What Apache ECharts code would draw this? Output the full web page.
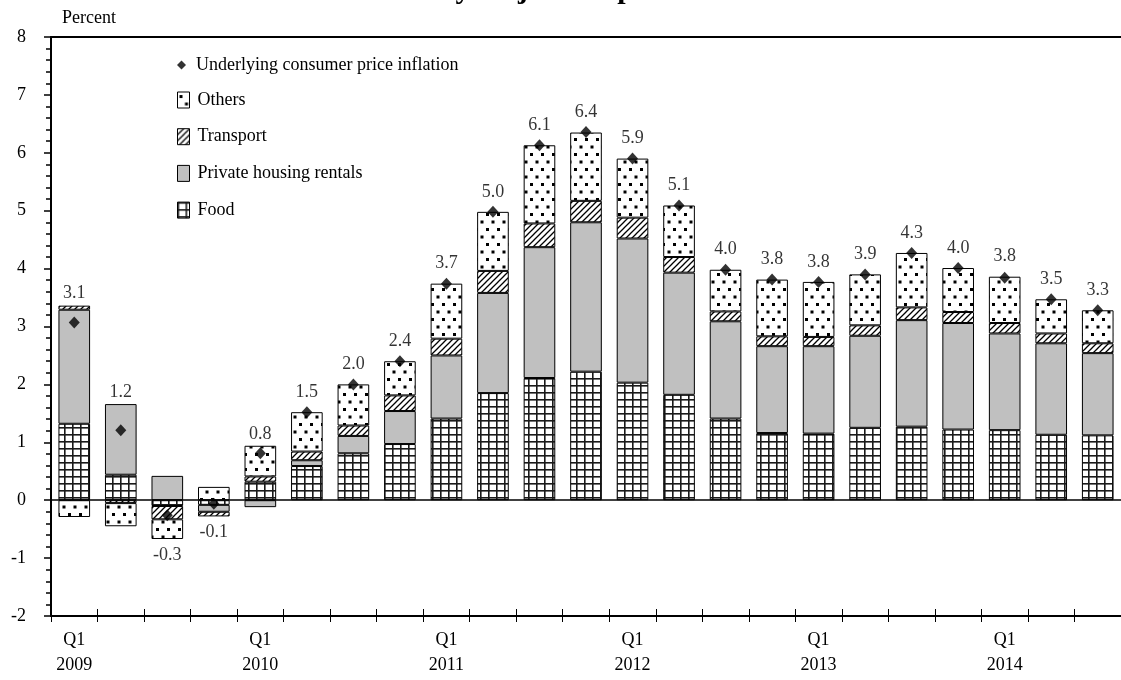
<!DOCTYPE html>
<html>
<head>
<meta charset="utf-8">
<style>
  html, body { margin: 0; padding: 0; background: #fff; }
  #chart { width: 1121px; height: 680px; }
</style>
<script src="https://cdn.jsdelivr.net/npm/echarts@6/dist/echarts.min.js"></script>
</head>
<body>
<div id="chart"></div>
<script>
// Quarterly categories, 2009 Q1 to 2014 Q3
const categories = [
  'Q1 2009', 'Q2 2009', 'Q3 2009', 'Q4 2009',
  'Q1 2010', 'Q2 2010', 'Q3 2010', 'Q4 2010',
  'Q1 2011', 'Q2 2011', 'Q3 2011', 'Q4 2011',
  'Q1 2012', 'Q2 2012', 'Q3 2012', 'Q4 2012',
  'Q1 2013', 'Q2 2013', 'Q3 2013', 'Q4 2013',
  'Q1 2014', 'Q2 2014', 'Q3 2014'
];

// Contributions (percentage points) by component
const food = [1.32, 0.44, -0.10, -0.08, 0.32, 0.59, 0.81, 0.97, 1.41, 1.85, 2.11, 2.22, 2.03, 1.82, 1.41, 1.16, 1.15, 1.25, 1.27, 1.22, 1.21, 1.13, 1.12];
const housing = [1.97, 1.22, 0.42, -0.12, -0.12, 0.10, 0.30, 0.57, 1.09, 1.73, 2.26, 2.58, 2.49, 2.11, 1.68, 1.50, 1.51, 1.59, 1.84, 1.84, 1.67, 1.58, 1.42];
const transport = [0.07, -0.05, -0.23, -0.08, 0.09, 0.15, 0.18, 0.27, 0.29, 0.38, 0.41, 0.37, 0.36, 0.27, 0.17, 0.17, 0.16, 0.18, 0.22, 0.19, 0.18, 0.17, 0.17];
const others = [-0.29, -0.40, -0.34, 0.23, 0.53, 0.68, 0.71, 0.59, 0.95, 1.02, 1.35, 1.18, 1.02, 0.89, 0.72, 0.98, 0.95, 0.88, 0.94, 0.76, 0.80, 0.59, 0.57];

// Underlying consumer price inflation (% yoy)
const inflation = [3.07, 1.21, -0.26, -0.06, 0.81, 1.52, 2.00, 2.40, 3.74, 4.98, 6.13, 6.36, 5.90, 5.09, 3.98, 3.81, 3.77, 3.90, 4.27, 4.01, 3.84, 3.47, 3.28];

const yTicks = { min: -2, max: 8, step: 1 };

const SERIF = '"Liberation Serif", "Times New Roman", serif';

// ---- fill patterns ----
function makePattern(w, h, draw) {
  const c = document.createElement('canvas');
  c.width = w; c.height = h;
  const ctx = c.getContext('2d');
  ctx.fillStyle = '#fff';
  ctx.fillRect(0, 0, w, h);
  draw(ctx, w, h);
  return { image: c, repeat: 'repeat' };
}
const gridFill = makePattern(8, 7, (ctx, w, h) => {
  ctx.fillStyle = '#1a1a1a';
  ctx.fillRect(0, 0, 1.6, h);
  ctx.fillRect(0, 0, w, 1.6);
});
const dotFill = makePattern(11, 15, (ctx) => {
  ctx.fillStyle = '#000';
  ctx.fillRect(2, 3, 3, 3);
  ctx.fillRect(7.5, 10.5, 3, 3);
});
const hatchFill = makePattern(6, 6, (ctx, w, h) => {
  ctx.strokeStyle = '#000';
  ctx.lineWidth = 1.3;
  ctx.beginPath();
  ctx.moveTo(-1, h + 1); ctx.lineTo(w + 1, -1);
  ctx.moveTo(-1, 1); ctx.lineTo(1, -1);
  ctx.moveTo(w - 1, h + 1); ctx.lineTo(w + 1, h - 1);
  ctx.stroke();
});

// ---- label anchors: top of the positive stack or bottom of the negative stack ----
const parts = [food, housing, transport, others];
const posSum = categories.map((_, i) => parts.reduce((s, a) => s + Math.max(a[i], 0), 0));
const negSum = categories.map((_, i) => parts.reduce((s, a) => s + Math.min(a[i], 0), 0));
const labelData = inflation.map((v, i) => {
  if (v < 0) {
    return { value: negSum[i], label: { position: 'bottom', distance: 7 } };
  }
  const atTop = Math.abs(posSum[i] - v) < 0.06;
  return { value: posSum[i], label: { position: 'top', distance: atTop ? 11 : 3 } };
});

const barCommon = {
  type: 'bar',
  stack: 'total',
  barWidth: '68%',
  emphasis: { disabled: true }
};
const border = { borderColor: '#000', borderWidth: 1 };

const chart = echarts.init(document.getElementById('chart'), null, { renderer: 'canvas' });

chart.setOption({
  animation: false,
  backgroundColor: '#fff',
  textStyle: { fontFamily: SERIF, color: '#000' },
  grid: { left: 51, right: 0, top: 37, bottom: 64, containLabel: false, outerBoundsMode: 'none' },
  graphic: [
    {
      type: 'text',
      x: 578, y: 5,
      style: {
        text: 'Contributions to underlying consumer price inflation\nby major components',
        font: 'bold 30px ' + SERIF,
        fill: '#000',
        align: 'center', verticalAlign: 'bottom',
        textAlign: 'center', textVerticalAlign: 'bottom'
      }
    },
    {
      type: 'text',
      x: 62, y: 9,
      style: { text: 'Percent', font: '18px ' + SERIF, fill: '#000' }
    }
  ],
  legend: [
    {
      data: [{ name: 'Underlying consumer price inflation', icon: 'diamond' }],
      left: 177, top: 56,
      padding: 0,
      itemWidth: 9, itemHeight: 9,
      itemGap: 0,
      itemStyle: { color: '#000', borderWidth: 0 },
      textStyle: { fontFamily: SERIF, fontSize: 18, color: '#000', padding: [0, 0, 0, 5] },
      selectedMode: false
    },
    {
      data: [
        { name: 'Others', icon: 'rect' },
        { name: 'Transport', icon: 'rect' },
        { name: 'Private housing rentals', icon: 'rect' },
        { name: 'Food', icon: 'rect' }
      ],
      orient: 'vertical',
      left: 177, top: 91,
      padding: 0,
      itemWidth: 12, itemHeight: 16,
      itemGap: 18.7,
      itemStyle: { borderColor: '#000', borderWidth: 1 },
      textStyle: { fontFamily: SERIF, fontSize: 18, color: '#000', lineHeight: 18, padding: [0, 0, 0, 3] },
      selectedMode: false
    }
  ],
  xAxis: [
    {
      type: 'category',
      data: categories,
      position: 'bottom',
      axisLine: { show: true, onZero: false, lineStyle: { color: '#000', width: 2 } },
      axisTick: { show: true, interval: 0, alignWithLabel: false, length: 6, lineStyle: { color: '#000', width: 1 } },
      axisLabel: {
        interval: (idx, val) => val.startsWith('Q1'),
        formatter: (val) => val.replace(' ', '\n'),
        fontFamily: SERIF, fontSize: 18, color: '#000', lineHeight: 25, margin: 12
      },
      splitLine: { show: false }
    },
    {
      type: 'category',
      data: categories,
      position: 'top',
      axisLine: { show: true, onZero: false, lineStyle: { color: '#000', width: 2 } },
      axisTick: { show: false },
      axisLabel: { show: false },
      splitLine: { show: false }
    },
    {
      type: 'category',
      data: categories,
      position: 'bottom',
      offset: 0,
      axisLine: { show: false, onZero: false },
      axisTick: { show: true, inside: true, interval: 0, alignWithLabel: false, length: 7, lineStyle: { color: '#000', width: 1 } },
      axisLabel: { show: false },
      splitLine: { show: false }
    }
  ],
  yAxis: {
    type: 'value',
    min: yTicks.min, max: yTicks.max, interval: yTicks.step,
    axisLine: { show: true, lineStyle: { color: '#000', width: 2 } },
    axisTick: { show: true, length: 7, lineStyle: { color: '#000', width: 1.5 } },
    minorTick: { show: true, splitNumber: 5, length: 5, lineStyle: { color: '#000', width: 1.5 } },
    axisLabel: { fontFamily: SERIF, fontSize: 18, color: '#000', margin: 25 },
    splitLine: { show: false }
  },
  series: [
    Object.assign({}, barCommon, {
      name: 'Food', data: food,
      itemStyle: Object.assign({ color: gridFill }, border),
      markLine: {
        silent: true, symbol: 'none',
        lineStyle: { color: '#000', width: 1.5, type: 'solid' },
        label: { show: false },
        data: [{ yAxis: 0 }]
      }
    }),
    Object.assign({}, barCommon, {
      name: 'Private housing rentals', data: housing,
      itemStyle: Object.assign({ color: '#c0c0c0' }, border)
    }),
    Object.assign({}, barCommon, {
      name: 'Transport', data: transport,
      itemStyle: Object.assign({ color: hatchFill }, border)
    }),
    Object.assign({}, barCommon, {
      name: 'Others', data: others,
      itemStyle: Object.assign({ color: dotFill }, border)
    }),
    {
      name: 'Underlying consumer price inflation',
      type: 'scatter',
      data: inflation,
      symbol: 'diamond',
      symbolSize: [11, 12],
      itemStyle: { color: '#000' },
      z: 5,
      emphasis: { disabled: true }
    },
    {
      name: 'labels',
      type: 'scatter',
      data: labelData,
      symbolSize: 0,
      silent: true,
      z: 6,
      label: {
        show: true,
        fontFamily: SERIF, fontSize: 18, color: '#000',
        formatter: (p) => inflation[p.dataIndex].toFixed(1)
      }
    }
  ]
});
</script>
</body>
</html>
